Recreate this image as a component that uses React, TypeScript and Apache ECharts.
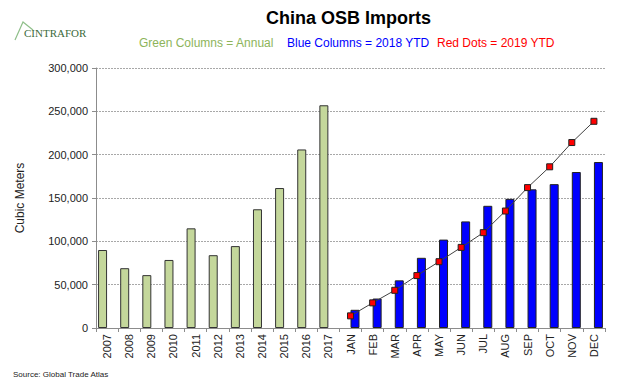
import React, { useEffect, useRef } from "react";
import * as echarts from "echarts";

const categories = ["2007","2008","2009","2010","2011","2012","2013","2014","2015","2016","2017","JAN","FEB","MAR","APR","MAY","JUN","JUL","AUG","SEP","OCT","NOV","DEC"];
const annualValues = [90000, 69000, 61000, 78500, 115000, 84000, 94500, 137000, 161500, 206000, 257000];
const ytd2018Values = [21000, 34000, 55000, 81000, 102000, 123000, 141000, 149000, 160000, 166000, 180000, 191500];
const ytd2019Values = [14000, 29000, 43500, 60500, 76500, 93000, 110000, 135000, 162000, 186000, 214000, 238500];
const yTicks = [0, 50000, 100000, 150000, 200000, 250000, 300000];

const FONT = "Liberation Sans, Arial, sans-serif";

export default function App() {
  const ref = useRef<HTMLDivElement>(null);
  useEffect(() => {
    if (!ref.current) return;
    const chart = echarts.init(ref.current, null, { renderer: "svg" });
    const nYears = annualValues.length;
    const green = categories.map((_, i) => (i < nYears ? annualValues[i] : "-"));
    const blue = categories.map((_, i) => (i >= nYears ? ytd2018Values[i - nYears] : "-"));
    const red = categories.map((_, i) => (i >= nYears ? ytd2019Values[i - nYears] : null));
    chart.setOption({
      animation: false,
      backgroundColor: "#ffffff",
      textStyle: { fontFamily: FONT },
      grid: { left: 96, right: 35, top: 68, bottom: 52 },
      xAxis: {
        type: "category",
        data: categories,
        boundaryGap: true,
        axisLine: { lineStyle: { color: "#8c8c8c", width: 1 } },
        axisTick: { show: true, length: 4, lineStyle: { color: "#8c8c8c" } },
        axisLabel: { rotate: 90, fontSize: 11, color: "#222", margin: 6, fontFamily: FONT },
      },
      yAxis: {
        type: "value",
        min: yTicks[0],
        max: yTicks[yTicks.length - 1],
        interval: yTicks[1] - yTicks[0],
        name: "Cubic Meters",
        nameLocation: "middle",
        nameRotate: 90,
        nameGap: 70,
        nameTextStyle: { fontSize: 12, color: "#222", fontFamily: FONT },
        axisLine: { show: true, lineStyle: { color: "#8c8c8c", width: 1 } },
        axisTick: { show: true, length: 4, lineStyle: { color: "#8c8c8c" } },
        axisLabel: {
          fontSize: 11,
          color: "#222",
          margin: 8,
          fontFamily: FONT,
          formatter: (v: number) => v.toLocaleString("en-US"),
        },
        splitLine: { show: true, lineStyle: { color: "#a8a8a8", type: [2, 1], width: 1.2 } },
      },
      series: [
        {
          name: "Annual",
          type: "bar",
          data: green,
          barWidth: 9,
          barGap: "0%",
          itemStyle: { color: "#c4d79b", borderColor: "#333", borderWidth: 1 },
        },
        {
          name: "2018 YTD",
          type: "bar",
          data: blue,
          barWidth: 9,
          barGap: "0%",
          itemStyle: { color: "#0000ff", borderColor: "#222", borderWidth: 1 },
        },
        {
          name: "2019 YTD",
          type: "line",
          data: red,
          connectNulls: false,
          symbol: "rect",
          symbolSize: 6,
          lineStyle: { color: "#404040", width: 1 },
          itemStyle: { color: "#ff0000", borderColor: "#222", borderWidth: 1 },
          z: 5,
        },
      ],
      graphic: [
        {
          type: "text",
          left: 266,
          top: 9,
          style: { text: "China OSB Imports", font: `bold 18px ${FONT}`, fill: "#000" },
        },
        {
          type: "text",
          left: 139,
          top: 37,
          style: { text: "Green Columns = Annual", font: `12px ${FONT}`, fill: "#8db45a" },
        },
        {
          type: "text",
          left: 287,
          top: 37,
          style: { text: "Blue Columns = 2018 YTD", font: `12px ${FONT}`, fill: "#0000ff" },
        },
        {
          type: "text",
          left: 437,
          top: 37,
          style: { text: "Red Dots = 2019 YTD", font: `12px ${FONT}`, fill: "#ff0000" },
        },
        {
          type: "polyline",
          shape: { points: [[15, 40], [23, 22], [33, 30]] },
          style: { stroke: "#8fbf8a", lineWidth: 1.2, fill: "none" },
        },
        {
          type: "text",
          left: 24,
          top: 27,
          style: { text: "CINTRAFOR", font: `11px "Liberation Serif", serif`, fill: "#3c6b3c" },
        },
        {
          type: "text",
          left: 13,
          top: 370,
          style: { text: "Source: Global Trade Atlas", font: `8px ${FONT}`, fill: "#222" },
        },
      ],
    });
    return () => chart.dispose();
  }, []);
  return (
    <div
      ref={ref}
      style={{ position: "absolute", left: 0, top: 0, width: 640, height: 380 }}
    />
  );
}
